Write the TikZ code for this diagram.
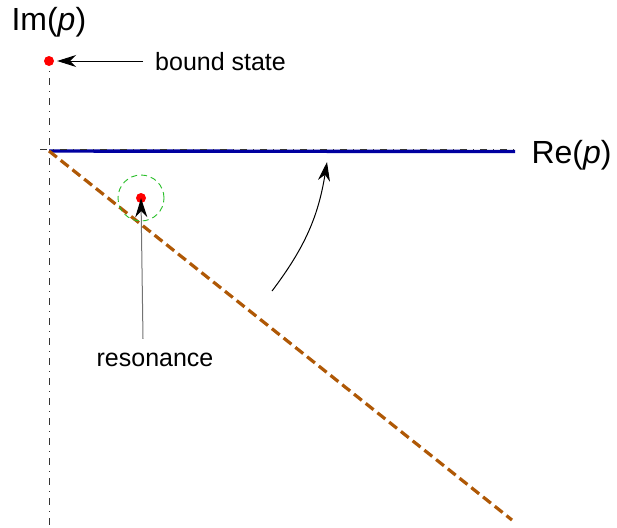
\documentclass[tikz,border=0pt]{standalone}
\usepackage{fontspec}
\setmainfont{Liberation Sans}
\usepackage{tikz}
\usetikzlibrary{arrows.meta,positioning}
\definecolor{ppBlue}{RGB}{0,0,160}
\definecolor{ppBrown}{RGB}{175,88,5}
\definecolor{ppGreen}{RGB}{40,190,40}
\tikzset{
 pp axis/.style={line width=.9pt,black!80,dash pattern=on 7pt off 6pt on 1pt off 6pt},
 pp real/.style={line width=3.4pt,ppBlue},
 pp rotated/.style={line width=3.2pt,ppBrown,dash pattern=on 10pt off 5pt},
 pp pole/.style={circle,fill=red,draw=none,minimum size=10pt,inner sep=0pt},
 pp ring/.style={circle,draw=ppGreen,line width=.9pt,dash pattern=on 6pt off 4pt,
                 minimum size=46pt,inner sep=0pt},
 pp arrow/.style={line width=1pt,-{Stealth[length=19pt,width=12pt,color=black]}},
 pp label/.style={font=\fontsize{25}{30}\selectfont},
 pp axis label/.style={font=\fontsize{32}{38}\selectfont}
}
\begin{document}
\begin{tikzpicture}[x=1pt,y=-1pt]
 \useasboundingbox (0,0) rectangle (617,527);
 % axes
 \coordinate (o) at (49,151);
 \coordinate (imtop) at (49,58);
 \coordinate (imbot) at (49,527);
 \coordinate (releft) at (40,149.5);
 \coordinate (reright) at (515,149.5);
 \draw[pp real] (o) -- (515,151.5);
 \draw[pp axis] (imtop) -- (imbot);
 \draw[pp axis] (releft) -- (reright);
 \node[pp axis label,anchor=west] (im) at (8,22) {Im(\textit{p})};
 \node[pp axis label,anchor=west] (re) at (528,155) {Re(\textit{p})};
 % rotated contour
 \coordinate (rotend) at (512,520);
 \draw[pp rotated] (o) -- (rotend);
 % poles
 \node[pp pole] (bound) at (49,61) {};
 \node[pp pole] (res) at (141,198) {};
 \node[pp ring] (ring) at (141,198) {};
 \node[pp label,anchor=west,inner sep=0pt] (boundtext) at (155,62) {bound state};
 \node[pp label,inner sep=0pt] (restext) at (155,360) {resonance};
 \draw[pp arrow] ([xshift=-12pt]boundtext.west |- bound) -- ([xshift=3pt]bound.east);
 \draw[pp arrow,black!55] ([xshift=-12pt,yshift=14pt]restext.north) -- ([yshift=5pt]res.south);
 % rotation back to the real axis
 \coordinate (rotfrom) at (272,291);
 \coordinate (rotto) at (327,162);
 \draw[pp arrow] (rotfrom) to[bend right=14] (rotto);
\end{tikzpicture}
\end{document}
